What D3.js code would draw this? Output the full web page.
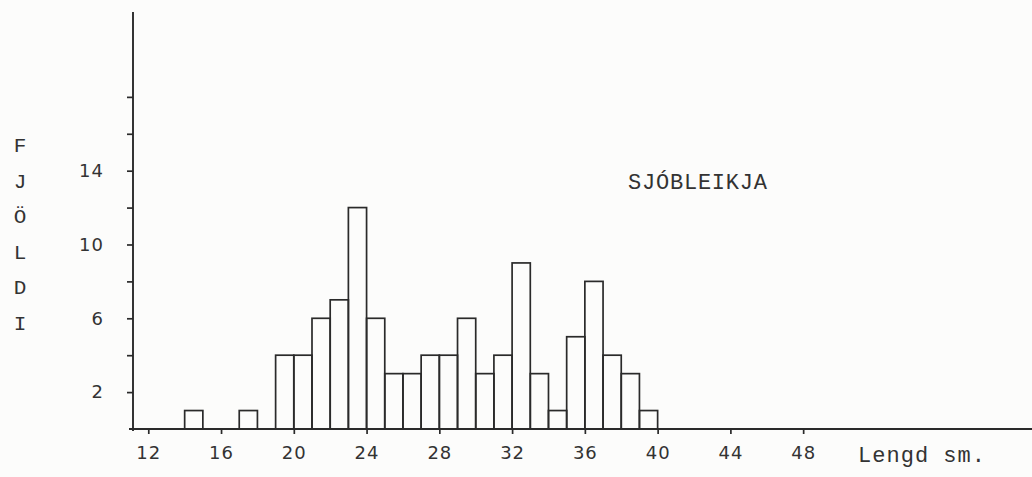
<!DOCTYPE html>
<html>
<head>
<meta charset="utf-8">
<script src="https://cdn.jsdelivr.net/npm/d3@7"></script>
<style>
  body { margin: 0; background: #fcfcfb; }
  svg { display: block; }
</style>
</head>
<body>
<svg id="chart" width="1032" height="477"></svg>
<script>
// length bins (start of each 1 cm class) and counts
var binStarts = [14, 17, 19, 20, 21, 22, 23, 24, 25, 26, 27, 28, 29, 30, 31, 32, 33, 34, 35, 36, 37, 38, 39];
var counts    = [1, 1, 4, 4, 6, 7, 12, 6, 3, 3, 4, 4, 6, 3, 4, 9, 3, 1, 5, 8, 4, 3, 1];
var xTicks = [12, 16, 20, 24, 28, 32, 36, 40, 44, 48];
var yTicks = [2, 4, 6, 8, 10, 12, 14, 16, 18];
var yLabelled = [2, 6, 10, 14];
var yTitle = ["F", "J", "Ö", "L", "D", "I"];
var chartTitle = "SJÓBLEIKJA";
var xTitle = "Lengd sm.";

var ink = "#2a2a2a";
var mono = "'Liberation Mono', 'DejaVu Sans Mono', monospace";

var svg = d3.select("#chart");

// the scan has the same cm-per-pixel on both axes
var x = d3.scaleLinear().domain([11.16, 60.58]).range([133, 1032]);
var y = d3.scaleLinear().domain([0, 22.6]).range([429, 12]);

var bars = binStarts.map(function(b, i) { return {start: b, n: counts[i]}; });

svg.selectAll(".bar")
  .data(bars)
  .enter()
  .append("rect")
    .attr("class", "bar")
    .attr("x", function(d) { return x(d.start); })
    .attr("y", function(d) { return y(d.n); })
    .attr("width", function(d) { return x(d.start + 1) - x(d.start); })
    .attr("height", function(d) { return y(0) - y(d.n); })
    .attr("fill", "none")
    .attr("stroke", ink)
    .attr("stroke-width", 1.7);

// axis lines drawn by hand (they run a bit past the origin)
svg.append("line")
    .attr("x1", 129).attr("x2", 1032)
    .attr("y1", y(0)).attr("y2", y(0))
    .attr("stroke", ink).attr("stroke-width", 1.9);
svg.append("line")
    .attr("x1", x.range()[0]).attr("x2", x.range()[0])
    .attr("y1", 12).attr("y2", y(0) + 2)
    .attr("stroke", ink).attr("stroke-width", 1.9);

var xAxis = svg.append("g")
    .attr("transform", "translate(0," + y(0) + ")")
    .call(d3.axisBottom(x).tickValues(xTicks).tickSize(5).tickPadding(12));

var yAxis = svg.append("g")
    .attr("transform", "translate(" + x.range()[0] + ",0)")
    .call(d3.axisLeft(y).tickValues(yTicks).tickSize(6).tickPadding(23)
      .tickFormat(function(d) { return yLabelled.indexOf(d) >= 0 ? d : ""; }));

[xAxis, yAxis].forEach(function(g) {
  g.select(".domain").remove();
  g.selectAll(".tick line").attr("stroke", ink).attr("stroke-width", 1.7);
  g.selectAll(".tick text")
      .attr("fill", "#333")
      .attr("font-family", "'DejaVu Sans', sans-serif")
      .attr("font-size", "18px")
      .attr("letter-spacing", "1px");
});

// vertical stacked y title
svg.append("g")
  .selectAll("text")
  .data(yTitle)
  .enter()
  .append("text")
    .attr("x", 20)
    .attr("y", function(d, i) { return 152 + i * 35.6; })
    .attr("text-anchor", "middle")
    .attr("font-family", mono)
    .attr("font-size", "21px")
    .attr("fill", "#333")
    .text(function(d) { return d; });

svg.append("text")
    .attr("x", 628)
    .attr("y", 189)
    .attr("font-family", mono)
    .attr("font-size", "22px")
    .attr("fill", "#333")
    .attr("textLength", 139)
    .attr("lengthAdjust", "spacing")
    .text(chartTitle);

svg.append("text")
    .attr("x", 858)
    .attr("y", 462)
    .attr("font-family", mono)
    .attr("font-size", "22px")
    .attr("fill", "#333")
    .attr("textLength", 127)
    .attr("lengthAdjust", "spacing")
    .text(xTitle);
</script>
</body>
</html>
